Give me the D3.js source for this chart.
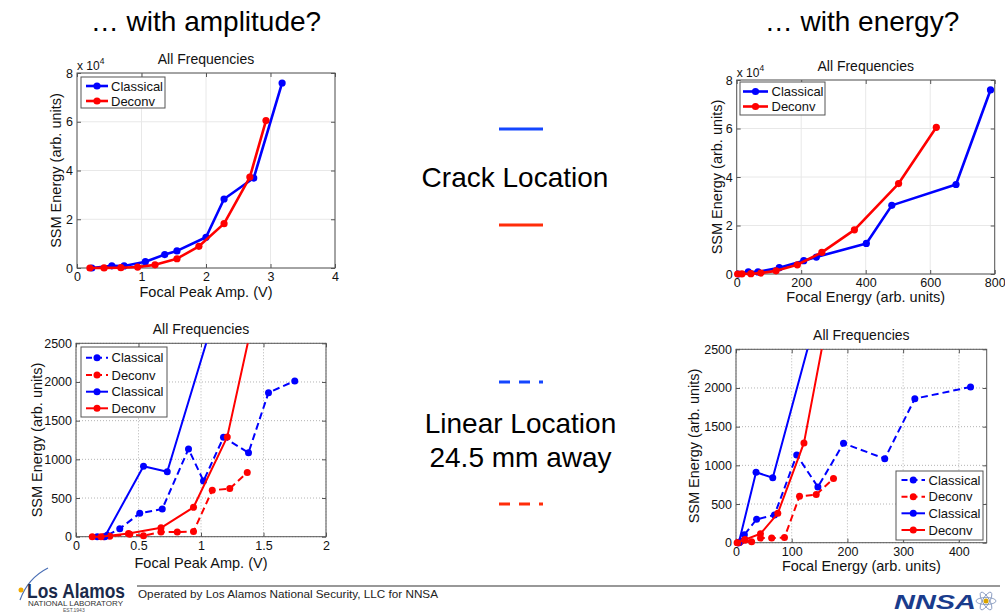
<!DOCTYPE html>
<html><head><meta charset="utf-8">
<script src="https://cdn.jsdelivr.net/npm/d3@7"></script>
<style>
body{margin:0;background:#fff;}
svg{display:block;font-family:"Liberation Sans",Arial,Helvetica,sans-serif;}
</style></head><body>
<svg id="s" width="1005" height="615"></svg>
<script>
// ---------------- DATA ----------------
// Crack location (solid lines)
const crackClassicalAmp    = [0.23, 0.54, 0.73, 1.06, 1.36, 1.55, 2.00, 2.28, 2.74, 3.18];
const crackClassicalEnergy = [5, 36, 66, 132, 208, 247, 402, 481, 680, 787];
const crackClassicalSSM    = [0, 910, 840, 2600, 5500, 7000, 12600, 28300, 36900, 75900];

const crackDeconvAmp    = [0.20, 0.42, 0.68, 0.94, 1.21, 1.55, 1.89, 2.28, 2.68, 2.93];
const crackDeconvEnergy = [3, 16, 44, 75, 122, 188, 264, 365, 502, 619];
const crackDeconvSSM    = [0, 40, 115, 380, 1290, 3800, 8900, 18200, 37300, 60500];

// Linear location 24.5 mm away (dashed lines)
const linearClassicalAmp    = [0.17, 0.25, 0.35, 0.51, 0.69, 0.90, 1.02, 1.18, 1.38, 1.54, 1.75];
const linearClassicalEnergy = [4, 9, 15, 37, 69, 109, 147, 193, 267, 321, 421];
const linearClassicalSSM    = [0, 18, 103, 302, 358, 1134, 720, 1285, 1086, 1862, 2013];

const linearDeconvAmp    = [0.13, 0.22, 0.27, 0.43, 0.54, 0.68, 0.81, 0.94, 1.09, 1.23, 1.37];
const linearDeconvEnergy = [2, 5, 7, 16, 28, 44, 64, 87, 114, 144, 175];
const linearDeconvSSM    = [0, 0, 5, 31, 12, 60, 60, 66, 600, 622, 830];

// Ticks
const ampTicksTop      = [0, 1, 2, 3, 4];
const energyTicksTop   = [0, 200, 400, 600, 800];
const ssmTicksTop      = [0, 20000, 40000, 60000, 80000];
const ssmTickLabelsTop = ["0", "2", "4", "6", "8"];
const ampTicksBottom    = [0, 0.5, 1, 1.5, 2];
const energyTicksBottom = [0, 100, 200, 300, 400];
const ssmTicksBottom    = [0, 500, 1000, 1500, 2000, 2500];

const legendTop    = ["Classical", "Deconv"];
const legendBottom = ["Classical", "Deconv", "Classical", "Deconv"];

// ---------------- DRAWING ----------------
const BLUE = "#0000ff", RED = "#ff0000";
const svg = d3.select("#s");
let clipId = 0;

function drawChart(cfg){
  const b = cfg.box;
  const x = d3.scaleLinear().domain(cfg.xDomain).range([b.left, b.right]);
  const y = d3.scaleLinear().domain(cfg.yDomain).range([b.bottom, b.top]);
  const g = svg.append("g");

  // grid
  const gridStyle = sel => cfg.dotted
    ? sel.attr("stroke", "#b4b4b4").attr("stroke-width", 1).attr("stroke-dasharray", "1,2")
    : sel.attr("stroke", "#e8e8e8").attr("stroke-width", 1);
  g.append("g").selectAll("line").data(cfg.xTicks).join("line")
    .attr("x1", d => x(d)).attr("x2", d => x(d)).attr("y1", b.top).attr("y2", b.bottom)
    .call(gridStyle);
  g.append("g").selectAll("line").data(cfg.yTicks).join("line")
    .attr("x1", b.left).attr("x2", b.right).attr("y1", d => y(d)).attr("y2", d => y(d))
    .call(gridStyle);

  // axes
  const fs = "12.5px";
  const ax = g.append("g").attr("transform", `translate(0,${b.bottom})`)
    .call(d3.axisBottom(x).tickValues(cfg.xTicks).tickSizeInner(-4).tickSizeOuter(0).tickPadding(4)
      .tickFormat(cfg.xFormat || (d => d)));
  const ay = g.append("g").attr("transform", `translate(${b.left},0)`)
    .call(d3.axisLeft(y).tickValues(cfg.yTicks).tickSizeInner(-4).tickSizeOuter(0).tickPadding(4)
      .tickFormat(cfg.yFormat || (d => d)));
  const at = g.append("g").attr("transform", `translate(0,${b.top})`)
    .call(d3.axisTop(x).tickValues(cfg.xTicks).tickSizeInner(-4).tickSizeOuter(0).tickFormat(""));
  const ar = g.append("g").attr("transform", `translate(${b.right},0)`)
    .call(d3.axisRight(y).tickValues(cfg.yTicks).tickSizeInner(-4).tickSizeOuter(0).tickFormat(""));
  [ax, ay, at, ar].forEach(a => {
    a.select(".domain").remove();
    a.selectAll("line").attr("stroke", "#555");
    a.selectAll("text").attr("font-size", fs).attr("fill", "#111")
      .attr("font-family", '"Liberation Sans",Arial,sans-serif');
  });
  ax.selectAll("text").attr("dy", "0.71em");
  g.append("rect").attr("x", b.left).attr("y", b.top)
    .attr("width", b.right - b.left).attr("height", b.bottom - b.top)
    .attr("fill", "none").attr("stroke", "#555").attr("stroke-width", 1);

  // clip
  const cid = "clip" + (clipId++);
  svg.append("clipPath").attr("id", cid).append("rect")
    .attr("x", b.left - 4).attr("y", b.top).attr("width", b.right - b.left + 8).attr("height", b.bottom - b.top + 5);
  const pg = g.append("g").attr("clip-path", `url(#${cid})`);
  const line = d3.line().x(d => x(d[0])).y(d => y(d[1]));
  cfg.series.forEach(s => {
    const pts = d3.zip(s.xs, s.ys);
    pg.append("path").datum(pts).attr("d", line).attr("fill", "none")
      .attr("stroke", s.color).attr("stroke-width", cfg.lw)
      .attr("stroke-dasharray", s.dashed ? "7,4" : null)
      .attr("stroke-linejoin", "round");
    pg.append("g").selectAll("circle").data(pts).join("circle")
      .attr("cx", d => x(d[0])).attr("cy", d => y(d[1])).attr("r", cfg.mr)
      .attr("fill", s.color);
  });

  // title
  g.append("text").attr("x", (b.left + b.right) / 2).attr("y", b.top - 9)
    .attr("text-anchor", "middle").attr("font-size", "14px").attr("fill", "#111").text("All Frequencies");
  // labels
  g.append("text").attr("x", (b.left + b.right) / 2).attr("y", cfg.xLabelY)
    .attr("text-anchor", "middle").attr("font-size", "14.5px").attr("fill", "#111").text(cfg.xLabel);
  g.append("text").attr("transform", `translate(${cfg.yLabelX},${(b.top + b.bottom) / 2}) rotate(-90)`)
    .attr("text-anchor", "middle").attr("font-size", "14.5px").attr("fill", "#111").text("SSM Energy (arb. units)");

  if (cfg.exponent) {
    const t = g.append("text").attr("x", b.left).attr("y", b.top - 3.5).attr("font-size", "12px").attr("fill", "#111");
    t.append("tspan").text("x 10");
    t.append("tspan").attr("font-size", "8.5px").attr("dy", "-6").text("4");
  }

  // legend
  const L = cfg.legend;
  g.append("rect").attr("x", L.x0).attr("y", L.y0).attr("width", L.x1 - L.x0).attr("height", L.y1 - L.y0)
    .attr("fill", "#fff").attr("stroke", "#555").attr("stroke-width", 1);
  cfg.series.forEach((s, i) => {
    const ly = L.ys[i];
    g.append("line").attr("x1", L.lx0).attr("x2", L.lx1).attr("y1", ly).attr("y2", ly)
      .attr("stroke", s.color).attr("stroke-width", cfg.lw)
      .attr("stroke-dasharray", s.dashed ? "6,4" : null);
    g.append("circle").attr("cx", (L.lx0 + L.lx1) / 2).attr("cy", ly).attr("r", cfg.mr).attr("fill", s.color);
    g.append("text").attr("x", L.tx).attr("y", ly).attr("dy", "0.35em")
      .attr("font-size", "13px").attr("fill", "#111").text(L.labels[i]);
  });
}

// Chart 1: amplitude, full range
drawChart({
  box: {left: 77, right: 335, top: 73, bottom: 268},
  xDomain: [0, 4], yDomain: [0, 80000],
  xTicks: ampTicksTop, yTicks: ssmTicksTop,
  yFormat: (d, i) => ssmTickLabelsTop[i],
  xLabel: "Focal Peak Amp. (V)", xLabelY: 297, yLabelX: 61,
  exponent: true, dotted: false, lw: 2.6, mr: 3.6,
  series: [
    {xs: crackClassicalAmp, ys: crackClassicalSSM, color: BLUE},
    {xs: crackDeconvAmp, ys: crackDeconvSSM, color: RED}
  ],
  legend: {x0: 81, y0: 77, x1: 165, y1: 108, lx0: 86, lx1: 108, tx: 111, ys: [86, 101], labels: legendTop}
});

// Chart 2: energy, full range
drawChart({
  box: {left: 736.7, right: 994.7, top: 80, bottom: 274},
  xDomain: [0, 800], yDomain: [0, 80000],
  xTicks: energyTicksTop, yTicks: ssmTicksTop,
  yFormat: (d, i) => ssmTickLabelsTop[i],
  xLabel: "Focal Energy (arb. units)", xLabelY: 302, yLabelX: 722,
  exponent: true, dotted: false, lw: 2.6, mr: 3.6,
  series: [
    {xs: crackClassicalEnergy, ys: crackClassicalSSM, color: BLUE},
    {xs: crackDeconvEnergy, ys: crackDeconvSSM, color: RED}
  ],
  legend: {x0: 740, y0: 82, x1: 825, y1: 115, lx0: 743, lx1: 768, tx: 771.5, ys: [91.5, 106.5], labels: legendTop}
});

// Chart 3: amplitude, zoomed
drawChart({
  box: {left: 76, right: 326, top: 343.3, bottom: 536.7},
  xDomain: [0, 2], yDomain: [0, 2500],
  xTicks: ampTicksBottom, yTicks: ssmTicksBottom,
  xLabel: "Focal Peak Amp. (V)", xLabelY: 568, yLabelX: 42,
  exponent: false, dotted: true, lw: 2, mr: 3.5,
  series: [
    {xs: linearClassicalAmp, ys: linearClassicalSSM, color: BLUE, dashed: true},
    {xs: linearDeconvAmp, ys: linearDeconvSSM, color: RED, dashed: true},
    {xs: crackClassicalAmp, ys: crackClassicalSSM, color: BLUE},
    {xs: crackDeconvAmp, ys: crackDeconvSSM, color: RED}
  ],
  legend: {x0: 81, y0: 347, x1: 167, y1: 417, lx0: 86, lx1: 108, tx: 111.5, ys: [357.7, 375, 391.7, 408.3], labels: legendBottom}
});

// Chart 4: energy, zoomed
drawChart({
  box: {left: 736, right: 986.7, top: 349.3, bottom: 542.7},
  xDomain: [0, 450], yDomain: [0, 2500],
  xTicks: energyTicksBottom, yTicks: ssmTicksBottom,
  xLabel: "Focal Energy (arb. units)", xLabelY: 571, yLabelX: 699,
  exponent: false, dotted: true, lw: 2, mr: 3.5,
  series: [
    {xs: linearClassicalEnergy, ys: linearClassicalSSM, color: BLUE, dashed: true},
    {xs: linearDeconvEnergy, ys: linearDeconvSSM, color: RED, dashed: true},
    {xs: crackClassicalEnergy, ys: crackClassicalSSM, color: BLUE},
    {xs: crackDeconvEnergy, ys: crackDeconvSSM, color: RED}
  ],
  legend: {x0: 896, y0: 471, x1: 983, y1: 540, lx0: 901.5, lx1: 925, tx: 928.5, ys: [480, 496.7, 513.3, 530], labels: legendBottom}
});

// ---------------- SLIDE DECORATION ----------------
svg.append("text").attr("x", 206).attr("y", 31).attr("text-anchor", "middle")
  .attr("font-size", "28px").attr("fill", "#000").text("… with amplitude?");
svg.append("text").attr("x", 862).attr("y", 31).attr("text-anchor", "middle")
  .attr("font-size", "28px").attr("fill", "#000").text("… with energy?");

const MB = "#1446ff", MR = "#ff2d0a";
svg.append("line").attr("x1", 499).attr("x2", 543).attr("y1", 129).attr("y2", 129).attr("stroke", MB).attr("stroke-width", 3);
svg.append("line").attr("x1", 499).attr("x2", 543).attr("y1", 225).attr("y2", 225).attr("stroke", MR).attr("stroke-width", 3);
svg.append("line").attr("x1", 499).attr("x2", 543).attr("y1", 382).attr("y2", 382).attr("stroke", MB).attr("stroke-width", 3).attr("stroke-dasharray", "11,9");
svg.append("line").attr("x1", 499).attr("x2", 543).attr("y1", 504).attr("y2", 504).attr("stroke", MR).attr("stroke-width", 3).attr("stroke-dasharray", "11,9");
svg.append("text").attr("x", 515).attr("y", 187).attr("text-anchor", "middle").attr("font-size", "28px").text("Crack Location");
svg.append("text").attr("x", 520.5).attr("y", 433).attr("text-anchor", "middle").attr("font-size", "28px").text("Linear Location");
svg.append("text").attr("x", 520.5).attr("y", 467).attr("text-anchor", "middle").attr("font-size", "28px").text("24.5 mm away");

// footer
svg.append("line").attr("x1", 137).attr("x2", 1000).attr("y1", 586).attr("y2", 586).attr("stroke", "#333").attr("stroke-width", 1.2);
svg.append("text").attr("x", 138).attr("y", 598).attr("font-size", "11.5px").attr("fill", "#222")
  .attr("textLength", 300).attr("lengthAdjust", "spacingAndGlyphs")
  .text("Operated by Los Alamos National Security, LLC for NNSA");
// Los Alamos logo (approximation)
svg.append("path").attr("d", "M20,600 Q28,578 48,568").attr("fill", "none").attr("stroke", "#4a6fb5").attr("stroke-width", 1.2);
svg.append("circle").attr("cx", 21).attr("cy", 590).attr("r", 2.5).attr("fill", "#f2a900");
svg.append("text").attr("x", 27).attr("y", 598).attr("font-size", "20px").attr("font-weight", "bold").attr("fill", "#1b2a4a")
  .attr("textLength", 98).attr("lengthAdjust", "spacingAndGlyphs").text("Los Alamos");
svg.append("text").attr("x", 28).attr("y", 606).attr("font-size", "6.5px").attr("fill", "#333")
  .attr("textLength", 95).attr("lengthAdjust", "spacingAndGlyphs").text("NATIONAL LABORATORY");
svg.append("text").attr("x", 63).attr("y", 612).attr("font-size", "5px").attr("fill", "#555").text("EST.1943");
// NNSA logo (approximation)
svg.append("text").attr("x", 894).attr("y", 609).attr("font-size", "20px").attr("font-weight", "bold")
  .attr("font-style", "italic").attr("fill", "#1a3c8c").attr("textLength", 82).attr("lengthAdjust", "spacingAndGlyphs").text("NNSA");
const atom = svg.append("g").attr("transform", "translate(986,601)");
[0, 60, 120].forEach(a => atom.append("ellipse").attr("rx", 10).attr("ry", 3.5).attr("transform", `rotate(${a})`)
  .attr("fill", "none").attr("stroke", "#7a8fb8").attr("stroke-width", 0.8));
atom.append("circle").attr("r", 2.5).attr("fill", "#d9a400");
</script>
</body></html>
